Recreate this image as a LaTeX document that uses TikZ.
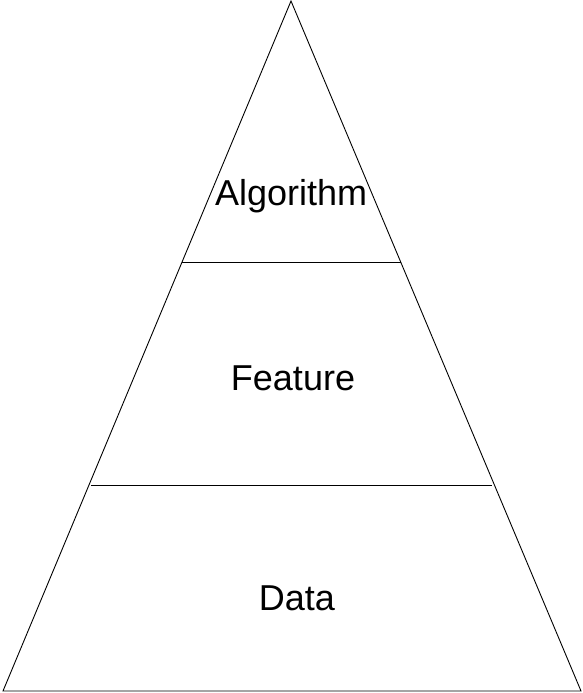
\documentclass[tikz,border=0pt]{standalone}
\usepackage{fontspec}
\setmainfont{Liberation Sans}
\usetikzlibrary{calc}
\begin{document}
\begin{tikzpicture}[x=1pt,y=-1pt,
  edge/.style={draw=black,line width=0.9pt,line join=miter},
  label/.style={anchor=base,inner sep=0pt,font=\fontsize{36}{42}\selectfont}]
\useasboundingbox (0,0) rectangle (583,693);
\coordinate (top) at (291,1);
\coordinate (bl) at (3,691);
\coordinate (br) at (581,691);
\coordinate (l1) at ($(top)!{261/690}!(bl)$);
\coordinate (r1) at ($(top)!{261/690}!(br)$);
\coordinate (l2) at (91,485);
\coordinate (r2) at (492,485);
\draw[edge] (top) -- (bl) -- (br) -- cycle;
\draw[edge] (l1) -- (r1);
\draw[edge] (l2) -- (r2);
\node[label] (alg) at (291.2,205.5) {Algorithm};
\node[label] (feat) at (293,390.5) {Feature};
\node[label] (data) at (297,610.5) {Data};
\end{tikzpicture}
\end{document}
